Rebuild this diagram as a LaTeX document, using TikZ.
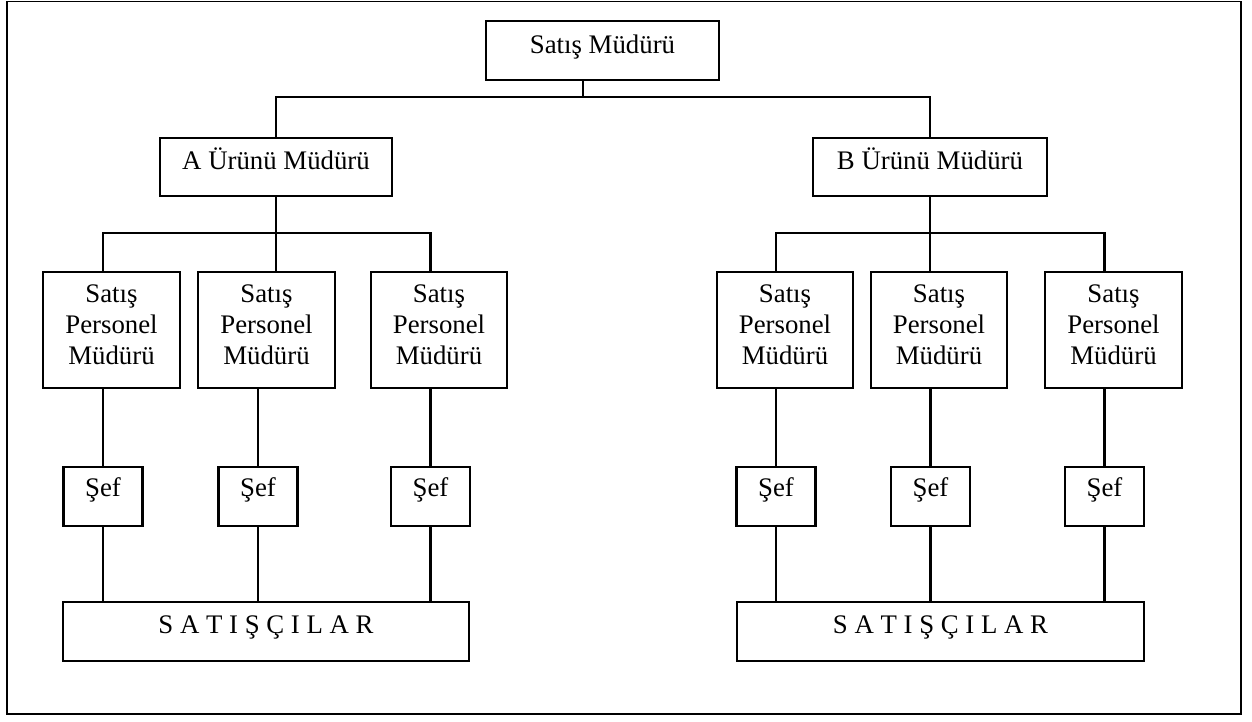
\documentclass[tikz,border=0pt]{standalone}
\usepackage{fontspec}
\setmainfont{Liberation Serif}
\begin{document}
\begin{tikzpicture}[x=1pt,y=-1pt,
  box/.style={draw,line width=2.4pt,inner sep=0pt,align=center,
    font=\fontsize{26.8}{31}\selectfont},
  one/.style={box,text height=31pt,text depth=27pt},
  sefbox/.style={box,minimum width=79pt,text height=30pt,text depth=29pt},
  spmbox/.style={box,minimum height=116pt},
  satbox/.style={box,text height=31pt,text depth=28pt},
  conn/.style={line width=2.4pt}]
\useasboundingbox (0,0) rectangle (1252,721);
\draw[line width=1.6pt] (7,1.5) rectangle (1241,714);

% top
\node[box,minimum width=233pt,text height=32pt,text depth=27pt,anchor=north] (top) at (602.5,20) {Satış Müdürü};
\node[one,minimum width=232pt,anchor=north] (A) at (276,137) {A Ürünü Müdürü};
\node[one,minimum width=234pt,anchor=north] (B) at (930,137) {B Ürünü Müdürü};

% Satış Personel Müdürü
\node[spmbox,minimum width=137pt] (spm1) at (111.5,330) {Satış\\Personel\\Müdürü\rule[-10pt]{0pt}{10pt}};
\node[spmbox,minimum width=137pt] (spm2) at (266.5,330) {Satış\\Personel\\Müdürü\rule[-10pt]{0pt}{10pt}};
\node[spmbox,minimum width=136pt] (spm3) at (439,330) {Satış\\Personel\\Müdürü\rule[-10pt]{0pt}{10pt}};
\node[spmbox,minimum width=136pt] (spm4) at (785,330) {Satış\\Personel\\Müdürü\rule[-10pt]{0pt}{10pt}};
\node[spmbox,minimum width=136pt] (spm5) at (939,330) {Satış\\Personel\\Müdürü\rule[-10pt]{0pt}{10pt}};
\node[spmbox,minimum width=137pt] (spm6) at (1113.5,330) {Satış\\Personel\\Müdürü\rule[-10pt]{0pt}{10pt}};

% Şef
\node[sefbox,anchor=north] (sef1) at (103,465.5) {Şef};
\node[sefbox,anchor=north] (sef2) at (258,465.5) {Şef};
\node[sefbox,anchor=north] (sef3) at (430.5,465.5) {Şef};
\node[sefbox,anchor=north] (sef4) at (776,465.5) {Şef};
\node[sefbox,anchor=north] (sef5) at (930.5,465.5) {Şef};
\node[sefbox,anchor=north] (sef6) at (1104.5,465.5) {Şef};

% Satışçılar
\node[satbox,minimum width=406pt,anchor=north] (sat1) at (266,601) {S A T I Ş Ç I L A R};
\node[satbox,minimum width=407pt,anchor=north] (sat2) at (940.5,601) {S A T I Ş Ç I L A R};

% connectors: top level
\coordinate (tj) at (583,97);
\draw[conn] (tj |- top.south) -- (tj);
\draw[conn] (A.north) -- (A.north |- tj) -- (B.north |- tj) -- (B.north);

% A group
\coordinate (ja) at (0,233);
\draw[conn] (A.south) -- (A.south |- spm2.north);
\draw[conn] (sef1.north |- spm1.north) -- (sef1.north |- ja) -- (sef3.north |- ja) -- (sef3.north |- spm3.north);

% B group
\draw[conn] (B.south) -- (B.south |- spm5.north);
\draw[conn] (sef4.north |- spm4.north) -- (sef4.north |- ja) -- (sef6.north |- ja) -- (sef6.north |- spm6.north);

% SPM -> Şef -> Satışçılar
\foreach \i/\s in {1/1,2/1,3/1,4/2,5/2,6/2}{
  \draw[conn] (spm\i.south -| sef\i.north) -- (sef\i.north);
  \draw[conn] (sef\i.south) -- (sef\i.south |- sat\s.north);
}
\end{tikzpicture}
\end{document}
